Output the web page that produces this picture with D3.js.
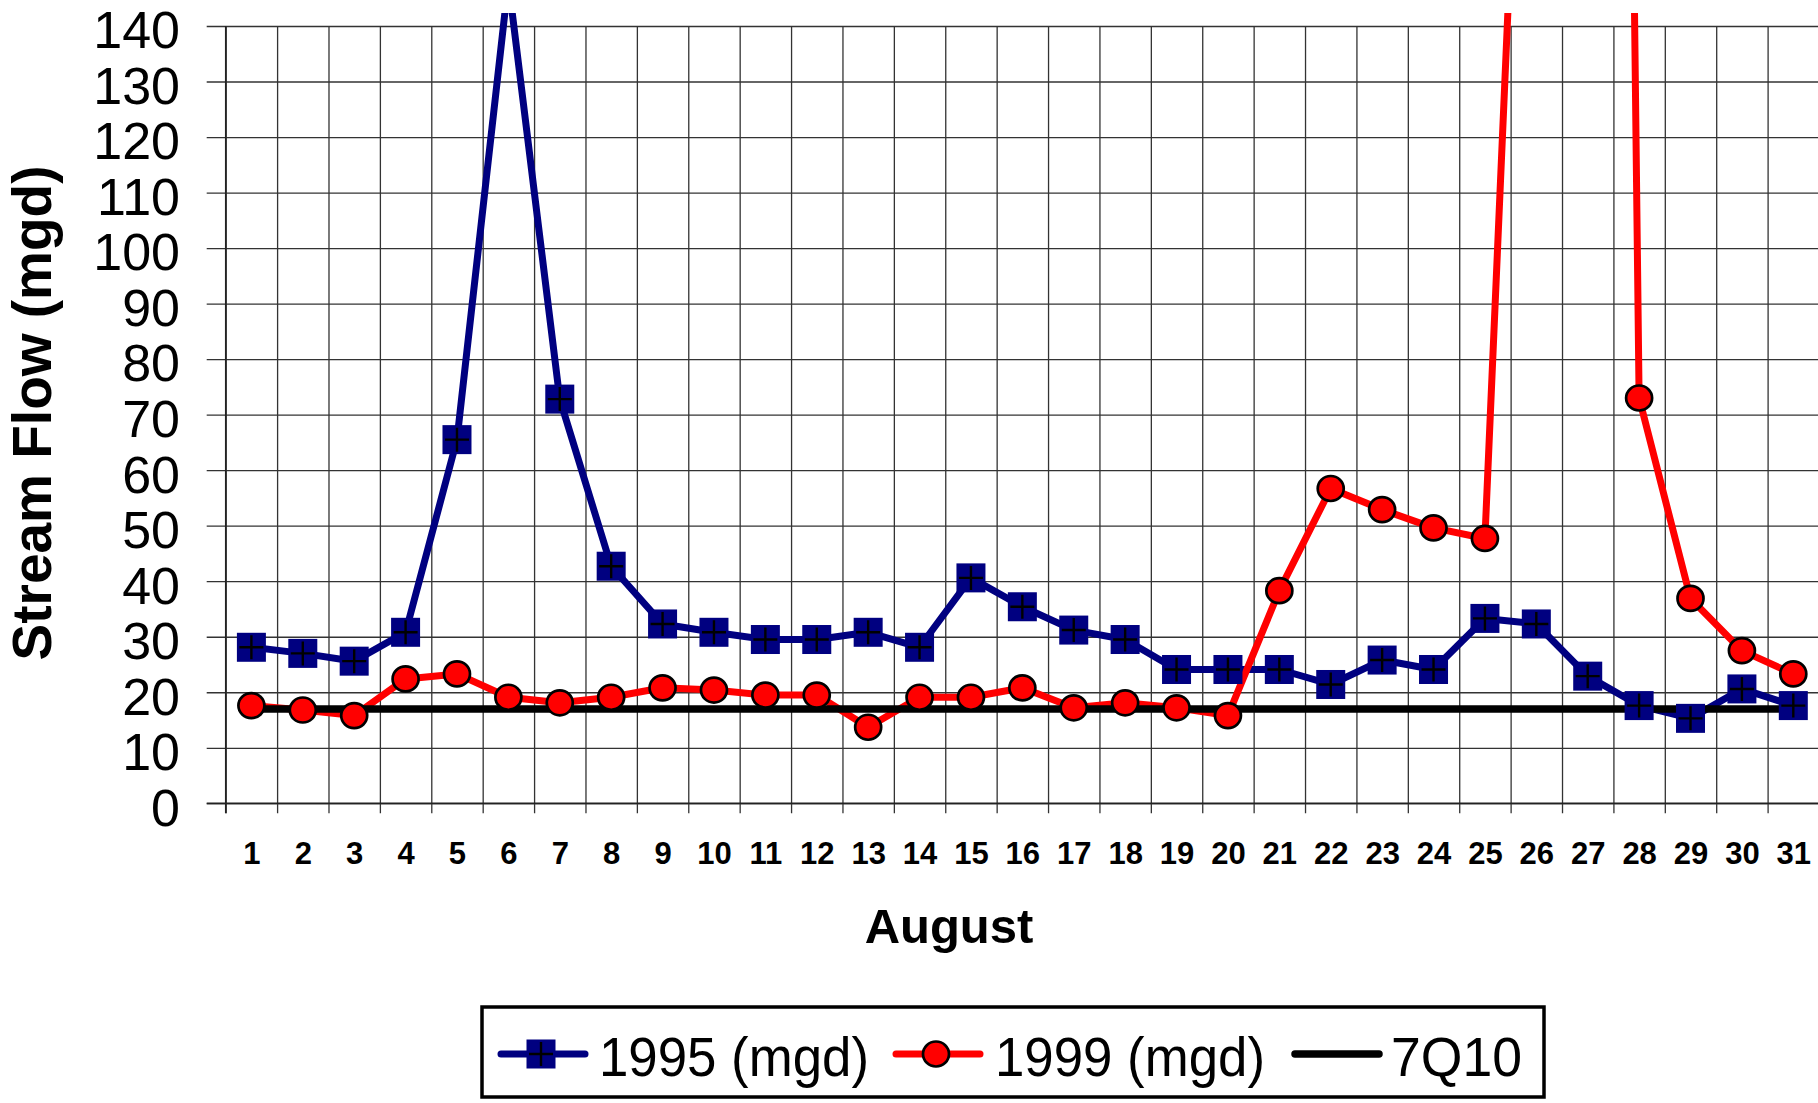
<!DOCTYPE html>
<html>
<head>
<meta charset="utf-8">
<script src="https://cdn.jsdelivr.net/npm/d3@7"></script>
<style>
  body { margin: 0; background: #fff; }
  text { font-family: "Liberation Sans", Arial, sans-serif; fill: #000; }
</style>
</head>
<body>
<div id="container"></div>
<script>
const w = 1818;
const h = 1103;
const plotLeft = 225.7;
const plotRight = 1819;
const plotTop = 26;
const plotBottom = 803.3;

// Data (August, stream flow in mgd)
const days = [1, 2, 3, 4, 5, 6, 7, 8, 9, 10, 11, 12, 13, 14, 15, 16, 17, 18, 19, 20,
              21, 22, 23, 24, 25, 26, 27, 28, 29, 30, 31];
const flow1995 = [28.1, 27.0, 25.6, 30.8, 65.5, 148, 72.8, 42.7, 32.3, 30.8, 29.5, 29.5,
                  30.8, 28.1, 40.6, 35.4, 31.2, 29.5, 24.1, 24.1, 24.1, 21.4, 25.8, 24.1,
                  33.3, 32.3, 22.9, 17.6, 15.3, 20.6, 17.6];
const flow1999 = [17.6, 16.8, 15.8, 22.4, 23.3, 19.1, 18.1, 19.1, 20.8, 20.4, 19.5, 19.5,
                  13.7, 19.1, 19.1, 20.8, 17.2, 18.1, 17.2, 15.8, 38.3, 56.7, 52.9, 49.6,
                  47.7, 260, 850, 73.0, 36.9, 27.5, 23.3];
const q7q10 = days.map(() => 17);
const yTicks = [0, 10, 20, 30, 40, 50, 60, 70, 80, 90, 100, 110, 120, 130, 140];
const legendItems = ['1995 (mgd)', '1999 (mgd)', '7Q10'];

const svg = d3.select('#container')
              .append('svg')
              .attr('width', w)
              .attr('height', h);

// Scales
const xScale = d3.scaleLinear()
                 .domain([0.5, 31.5])
                 .range([plotLeft, plotRight]);

const yScale = d3.scaleLinear()
                 .domain([0, 140])
                 .range([plotBottom, plotTop]);

svg.append('defs')
   .append('clipPath')
   .attr('id', 'plot-clip')
   .append('rect')
   .attr('x', plotLeft)
   .attr('y', 13)
   .attr('width', plotRight - plotLeft)
   .attr('height', 830);

// Grid
const boundaries = days.map(d => d - 0.5).concat([31.5]);

const vGrid = svg.append('g')
   .attr('transform', `translate(0, ${plotTop})`)
   .call(d3.axisTop(xScale).tickValues(boundaries).tickSize(-(plotBottom - plotTop + 10)).tickFormat(''));
vGrid.select('.domain').remove();
vGrid.selectAll('line').attr('stroke', '#333').attr('stroke-width', 1.3);

const hGrid = svg.append('g')
   .attr('transform', `translate(${plotLeft - 19}, 0)`)
   .call(d3.axisRight(yScale).tickValues(yTicks).tickSize(w - plotLeft + 19).tickFormat(''));
hGrid.select('.domain').remove();
hGrid.selectAll('line').attr('stroke', '#333').attr('stroke-width', 1.3);

// Axis labels
const yAxis = svg.append('g')
   .attr('transform', `translate(${plotLeft}, 0)`)
   .call(d3.axisLeft(yScale).tickValues(yTicks).tickSize(0).tickPadding(45.7));
yAxis.select('.domain').remove();
yAxis.selectAll('text')
     .attr('dy', '0.42em')
     .style('font-size', '52px')
     .style('font-family', '"Liberation Sans", Arial, sans-serif');

const xAxis = svg.append('g')
   .attr('transform', `translate(0, ${plotBottom})`)
   .call(d3.axisBottom(xScale).tickValues(days).tickSize(0));
xAxis.select('.domain').remove();
xAxis.selectAll('text')
     .attr('y', 61)
     .attr('dy', 0)
     .style('font-size', '31px')
     .style('font-weight', 'bold')
     .style('font-family', '"Liberation Sans", Arial, sans-serif');

svg.append('line')
   .attr('x1', plotLeft).attr('x2', plotLeft)
   .attr('y1', plotTop).attr('y2', plotBottom + 10)
   .attr('stroke', '#222').attr('stroke-width', 1.5);
svg.append('line')
   .attr('x1', plotLeft - 19).attr('x2', w)
   .attr('y1', plotBottom).attr('y2', plotBottom)
   .attr('stroke', '#222').attr('stroke-width', 1.5);

svg.append('text')
   .attr('x', 949)
   .attr('y', 943)
   .attr('text-anchor', 'middle')
   .style('font-size', '49px')
   .style('font-weight', 'bold')
   .text('August');

svg.append('text')
   .attr('transform', 'translate(51, 413) rotate(-90)')
   .attr('text-anchor', 'middle')
   .style('font-size', '55px')
   .style('font-weight', 'bold')
   .text('Stream Flow (mgd)');

// Series
const series = [
  { values: flow1995, color: '#000080', width: 7 },
  { values: flow1999, color: '#ff0000', width: 7 },
  { values: q7q10, color: '#000', width: 7.5 }
];

const line = d3.line()
               .x((d, i) => xScale(days[i]))
               .y(d => yScale(d));

const plot = svg.append('g').attr('clip-path', 'url(#plot-clip)');

plot.selectAll('path.series')
    .data(series)
    .enter()
    .append('path')
    .attr('class', 'series')
    .attr('d', d => line(d.values))
    .attr('fill', 'none')
    .attr('stroke', d => d.color)
    .attr('stroke-width', d => d.width)
    .attr('stroke-linejoin', 'round');

function drawSquare(g, cx, cy) {
  g.append('rect')
   .attr('x', cx - 14.5).attr('y', cy - 14.5)
   .attr('width', 29).attr('height', 29)
   .attr('fill', '#000080');
  g.append('path')
   .attr('d', `M${cx - 12},${cy}H${cx + 12}M${cx},${cy - 12}V${cy + 12}`)
   .attr('stroke', '#000')
   .attr('stroke-width', 2.4);
}

function drawCircle(g, cx, cy) {
  g.append('ellipse')
   .attr('cx', cx).attr('cy', cy)
   .attr('rx', 13).attr('ry', 12.5)
   .attr('fill', '#ff0000')
   .attr('stroke', '#000')
   .attr('stroke-width', 2.7);
}

const marks = plot.append('g');
flow1995.forEach((v, i) => drawSquare(marks, xScale(days[i]), yScale(v)));
flow1999.forEach((v, i) => drawCircle(marks, xScale(days[i]), yScale(v)));

// Legend
const legend = svg.append('g').attr('id', 'legend');
legend.append('rect')
      .attr('x', 482).attr('y', 1007)
      .attr('width', 1062).attr('height', 90)
      .attr('fill', '#fff')
      .attr('stroke', '#000')
      .attr('stroke-width', 3.5);

const legendLayout = [
  { lx: 501, tx: 599, color: '#000080', width: 7, marker: drawSquare },
  { lx: 896, tx: 995, color: '#ff0000', width: 7, marker: drawCircle },
  { lx: 1295, tx: 1391, color: '#000', width: 7.5, marker: null }
];

legendLayout.forEach((d, i) => {
  legend.append('line')
        .attr('x1', d.lx).attr('x2', d.lx + 84)
        .attr('y1', 1054).attr('y2', 1054)
        .attr('stroke', d.color)
        .attr('stroke-width', d.width)
        .attr('stroke-linecap', 'round');
  if (d.marker) d.marker(legend, d.lx + 40, 1054);
  legend.append('text')
        .attr('x', d.tx)
        .attr('y', 1076)
        .style('font-size', '55px')
        .attr('textLength', i === 2 ? 131 : 270)
        .attr('lengthAdjust', 'spacingAndGlyphs')
        .text(legendItems[i]);
});
</script>
</body>
</html>
